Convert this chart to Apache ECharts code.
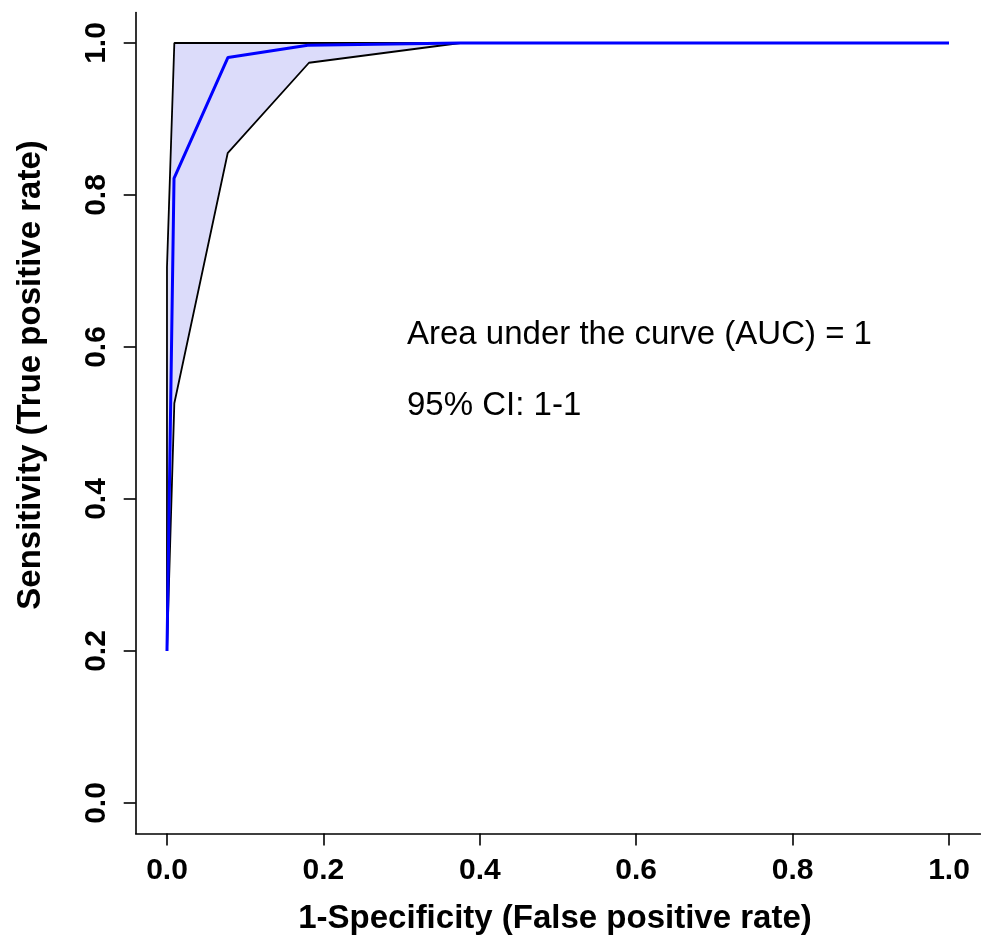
<!DOCTYPE html>
<html>
<head>
<meta charset="utf-8">
<script src="https://cdn.jsdelivr.net/npm/echarts@6/dist/echarts.min.js"></script>
<style>
html,body{margin:0;padding:0;background:#fff;}
#c{width:981px;height:941px;}
</style>
</head>
<body>
<div id="c"></div>
<script>
// ROC curve (x = 1-Specificity, y = Sensitivity)
var rocFpr = [0, 0.009, 0.078, 0.18, 0.375, 1];
var rocTpr = [0.2, 0.822, 0.981, 0.997, 1, 1];
// 95% CI band, upper bound
var ciUpFpr = [0, 0, 0.0094, 0.375, 1];
var ciUpTpr = [0.2, 0.705, 1, 1, 1];
// 95% CI band, lower bound
var ciLoFpr = [0, 0.0094, 0.0776, 0.1816, 0.375, 1];
var ciLoTpr = [0.2, 0.526, 0.855, 0.974, 1, 1];
// tick values
var xTicks = [0, 0.2, 0.4, 0.6, 0.8, 1.0];
var yTicks = [0, 0.2, 0.4, 0.6, 0.8, 1.0];
var xTitle = '1-Specificity (False positive rate)';
var yTitle = 'Sensitivity (True positive rate)';
var aucText = 'Area under the curve (AUC) = 1';
var ciText = '95% CI: 1-1';

function pairs(xs, ys){ return xs.map(function(x,i){ return [x, ys[i]]; }); }

var FONT = '"Liberation Sans", Arial, sans-serif';
var chart = echarts.init(document.getElementById('c'), null, {renderer:'canvas'});
var axisCommon = {
  type: 'value', min: -0.04, max: 1.04,
  splitLine: {show: false},
  axisLine: {show: true, onZero: false, lineStyle: {color: '#000', width: 1.6}},
  axisTick: {show: true, length: 12, lineStyle: {color: '#000', width: 1.6}},
};
chart.setOption({
  animation: false,
  backgroundColor: '#fff',
  grid: {left: 135.7, right: 0.7, top: 12.6, bottom: 107.6, containLabel: false},
  xAxis: Object.assign({}, axisCommon, {
    axisTick: Object.assign({}, axisCommon.axisTick, {customValues: xTicks}),
    axisLabel: {customValues: xTicks, margin: 22, fontSize: 30, fontWeight: 'bold', fontFamily: FONT, color: '#000',
      formatter: function(v){ return v.toFixed(1); }}
  }),
  yAxis: Object.assign({}, axisCommon, {
    axisTick: Object.assign({}, axisCommon.axisTick, {customValues: yTicks}),
    axisLabel: {customValues: yTicks, rotate: 90, margin: 24, fontSize: 30, fontWeight: 'bold', fontFamily: FONT, color: '#000',
      formatter: function(v){ return v.toFixed(1); }}
  }),
  series: [
    {
      type: 'custom',
      data: [0],
      silent: true,
      z: 1,
      renderItem: function(params, api){
        var pts = [];
        for (var i = 0; i < ciUpFpr.length; i++) pts.push(api.coord([ciUpFpr[i], ciUpTpr[i]]));
        for (var j = ciLoFpr.length - 1; j >= 0; j--) pts.push(api.coord([ciLoFpr[j], ciLoTpr[j]]));
        return {type: 'polygon', shape: {points: pts}, style: {fill: '#DCDCFA', stroke: null}};
      }
    },
    {type: 'line', data: pairs(ciUpFpr, ciUpTpr), symbol: 'none', z: 2,
      lineStyle: {color: '#000', width: 1.8}},
    {type: 'line', data: pairs(ciLoFpr, ciLoTpr), symbol: 'none', z: 2,
      lineStyle: {color: '#000', width: 1.8}},
    {type: 'line', data: pairs(rocFpr, rocTpr), symbol: 'none', z: 3,
      lineStyle: {color: '#0000FF', width: 3}}
  ],
  graphic: [
    {type: 'text', left: 407, top: 335 - 16.5, z: 10,
      style: {text: aucText, font: 'normal 33px ' + FONT, fill: '#000'}},
    {type: 'text', left: 407, top: 406 - 16.5, z: 10,
      style: {text: ciText, font: 'normal 33px ' + FONT, fill: '#000'}},
    {type: 'text', x: 555, y: 919, z: 10,
      style: {text: xTitle, font: 'bold 33px ' + FONT, fill: '#000', align: 'center', verticalAlign: 'middle'}},
    {type: 'text', x: 31, y: 375, rotation: Math.PI/2, z: 10,
      style: {text: yTitle, font: 'bold 33px ' + FONT, fill: '#000', align: 'center', verticalAlign: 'middle'}}
  ]
});
</script>
</body>
</html>
